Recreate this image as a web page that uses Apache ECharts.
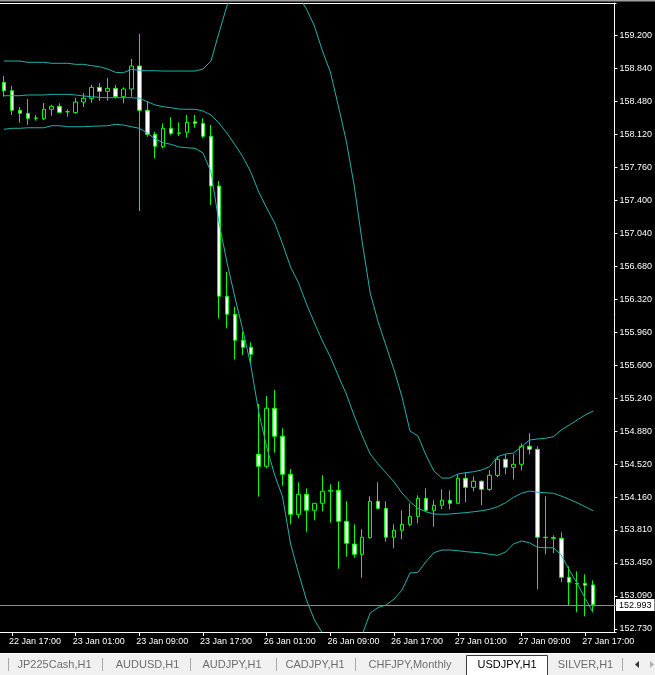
<!DOCTYPE html>
<html>
<head>
<meta charset="utf-8">
<script src="https://cdn.jsdelivr.net/npm/echarts@6/dist/echarts.min.js"></script>
<style>
html,body{margin:0;padding:0;background:#000;}
#chart{width:655px;height:675px;}
</style>
</head>
<body>
<div id="chart"></div>
<script>
// ---- time categories (USDJPY, H1); last 3 slots are the empty chart shift ----
const sessions = [['22 Jan', 16, 23], ['23 Jan', 0, 23], ['26 Jan', 0, 23], ['27 Jan', 0, 21]];
const timeTickLabels = ['22 Jan 17:00', '23 Jan 01:00', '23 Jan 09:00', '23 Jan 17:00', '26 Jan 01:00',
  '26 Jan 09:00', '26 Jan 17:00', '27 Jan 01:00', '27 Jan 09:00', '27 Jan 17:00'];
const priceTicks = [159.2, 158.84, 158.48, 158.12, 157.76, 157.4, 157.04, 156.68, 156.32, 155.96,
  155.6, 155.24, 154.88, 154.52, 154.16, 153.81, 153.45, 153.09, 152.73];
const lastPrice = 152.993;

// ---- OHLC ----
const opens = [158.685,158.593,158.380,158.347,158.296,158.288,158.391,158.423,158.365,158.354,
  158.470,158.511,158.630,158.587,158.619,158.528,158.612,158.862,158.380,158.118,
  157.985,158.184,158.132,158.140,158.255,158.238,158.097,157.555,156.354,156.158,
  155.874,155.800,154.633,154.502,155.134,154.829,154.415,153.979,154.197,154.023,
  154.099,154.230,154.241,153.903,153.655,153.543,153.724,154.121,154.044,153.729,
  153.805,153.870,153.957,154.153,154.023,154.077,154.132,154.099,154.371,154.273,
  154.339,154.251,154.404,154.578,154.491,154.524,154.720,154.687,153.729,153.725,
  153.718,153.293,153.227,153.227,153.210];
const closes = [158.593,158.380,158.347,158.293,158.294,158.391,158.423,158.358,158.364,158.470,
  158.511,158.630,158.587,158.619,158.528,158.612,158.862,158.380,158.118,157.988,
  158.184,158.129,158.130,158.249,158.238,158.097,157.555,156.354,156.158,155.874,
  155.798,155.722,154.502,155.134,154.829,154.415,153.979,154.197,154.023,154.099,
  154.230,154.241,153.903,153.663,153.543,153.729,154.121,154.044,153.729,153.805,
  153.870,153.957,154.153,154.023,154.077,154.132,154.099,154.371,154.273,154.339,
  154.251,154.404,154.578,154.491,154.524,154.720,154.687,153.729,153.725,153.718,
  153.293,153.238,153.220,153.206,152.993];
const lows = [158.528,158.329,158.245,158.223,158.267,158.274,158.321,158.347,158.310,158.340,
  158.416,158.463,158.484,158.484,158.511,158.456,158.528,157.283,158.092,157.857,
  157.966,158.111,158.100,158.086,158.190,158.075,157.348,156.114,156.005,155.667,
  155.714,155.627,154.171,154.480,154.650,154.291,153.870,153.936,153.789,153.914,
  154.012,153.888,153.386,153.517,153.506,153.288,153.715,154.034,153.681,153.609,
  153.707,153.848,153.881,154.001,153.844,154.034,154.034,154.088,154.110,154.230,
  154.077,154.230,154.382,154.415,154.360,154.458,154.633,153.162,153.543,153.554,
  153.238,152.988,152.912,152.868,152.922];
const highs = [158.753,158.645,158.416,158.503,158.329,158.459,158.441,158.456,158.391,158.517,
  158.568,158.659,158.677,158.732,158.655,158.630,158.939,159.211,158.481,158.147,
  158.238,158.304,158.249,158.329,158.329,158.293,158.220,157.610,156.618,156.240,
  155.968,155.853,155.181,155.268,155.333,154.916,154.473,154.328,154.262,154.099,
  154.404,154.306,154.339,154.121,153.870,153.816,154.175,154.328,154.121,153.870,
  154.023,154.099,154.186,154.262,154.132,154.251,154.240,154.415,154.437,154.393,
  154.349,154.458,154.611,154.633,154.633,154.752,154.861,154.720,154.175,153.750,
  153.783,153.413,153.358,153.325,153.260];

// ---- Bollinger Bands (20, 2) ----
const bbUpper = [158.917,158.917,158.917,158.903,158.903,158.903,158.892,158.892,158.892,158.881,
  158.881,158.866,158.855,158.830,158.794,158.789,158.826,158.816,158.811,158.811,
  158.808,158.808,158.808,158.808,158.808,158.830,158.917,159.222,159.516,159.668,
  159.756,159.810,159.864,159.886,159.854,159.777,159.712,159.625,159.483,159.298,
  159.026,158.797,158.427,158.045,157.555,156.945,156.390,156.074,155.812,155.551,
  155.257,154.886,154.832,154.625,154.451,154.374,154.374,154.418,154.432,154.443,
  154.462,154.498,154.607,154.636,154.647,154.715,154.788,154.799,154.807,154.824,
  154.897,154.952,155.006,155.061,155.104];
const bbMiddle = [158.539,158.539,158.539,158.547,158.547,158.547,158.554,158.554,158.554,158.547,
  158.536,158.528,158.521,158.517,158.517,158.517,158.517,158.511,158.474,158.438,
  158.419,158.408,158.394,158.391,158.391,158.372,158.329,158.242,158.133,158.005,
  157.874,157.708,157.490,157.316,157.152,156.923,156.673,156.499,156.270,156.063,
  155.867,155.693,155.486,155.290,155.050,154.832,154.636,154.527,154.429,154.331,
  154.211,154.116,154.044,154.007,153.982,153.979,153.982,153.990,153.997,154.007,
  154.018,154.034,154.062,154.105,154.164,154.208,154.233,154.219,154.214,154.208,
  154.178,154.142,154.105,154.062,154.018];
const bbLower = [158.173,158.184,158.184,158.190,158.190,158.190,158.212,158.212,158.201,158.201,
  158.201,158.206,158.209,158.212,158.227,158.220,158.201,158.184,158.133,158.067,
  158.027,158.009,157.980,157.972,157.966,157.915,157.708,157.163,156.727,156.346,
  155.987,155.605,155.093,154.712,154.407,154.168,153.656,153.340,153.046,152.828,
  152.686,152.588,152.544,152.534,152.544,152.670,152.904,152.964,152.991,153.056,
  153.154,153.340,153.347,153.463,153.561,153.590,153.590,153.583,153.572,153.565,
  153.558,153.543,153.532,153.568,153.656,153.688,153.670,153.620,153.615,153.615,
  153.536,153.372,153.227,153.064,152.907];

const tabs = ['JP225Cash,H1', 'AUDUSD,H1', 'AUDJPY,H1', 'CADJPY,H1', 'CHFJPY,Monthly', 'USDJPY,H1', 'SILVER,H1'];
const activeTab = 'USDJPY,H1';

// ---- build ----
const pad = n => (n < 10 ? '0' : '') + n;
const cats = [];
sessions.forEach(([d, a, b]) => { for (let h = a; h <= b; h++) cats.push(d + ' ' + pad(h) + ':00'); });
const showTick = (idx, val) => timeTickLabels.indexOf(val) >= 0;
const candles = opens.map((o, i) => [o, closes[i], lows[i], highs[i]]);

const tabCenters = [54.5, 147.5, 232, 315, 410, 507, 585.5];
const sepXs = [8.5, 102.5, 190.5, 276.5, 355.5, 622.5];
const graphics = [
  {type: 'rect', shape: {x: 0, y: 0, width: 655, height: 1.5}, style: {fill: '#a0a0a0'}, silent: true},
  {type: 'line', shape: {x1: 0, y1: 3.5, x2: 616.5, y2: 3.5}, style: {stroke: '#fff', lineWidth: 1}, silent: true},
  {type: 'line', shape: {x1: 0, y1: 632.5, x2: 616.5, y2: 632.5}, style: {stroke: '#fff', lineWidth: 1}, silent: true},
  {type: 'rect', shape: {x: 0, y: 653, width: 655, height: 22}, style: {fill: '#f0f0f0'}, silent: true},
  {type: 'line', shape: {x1: 0, y1: 653.5, x2: 655, y2: 653.5}, style: {stroke: '#ffffff', lineWidth: 1}, silent: true},
  {type: 'rect', shape: {x: 466.5, y: 655.5, width: 81, height: 20}, style: {fill: '#ffffff', stroke: '#3c3c3c', lineWidth: 1}, silent: true}
];
sepXs.forEach(x => graphics.push({type: 'line', shape: {x1: x, y1: 658, x2: x, y2: 671}, style: {stroke: '#a8a8a8', lineWidth: 1}, silent: true}));
tabs.forEach((t, i) => graphics.push({
  type: 'text', x: tabCenters[i], y: 664.5, silent: true,
  style: {text: t, fill: t === activeTab ? '#000000' : '#6d6d6d', font: '11px "Liberation Sans", Arial, sans-serif', align: 'center', verticalAlign: 'middle'}
}));
graphics.push({type: 'polygon', shape: {points: [[639, 661], [639, 668], [635, 664.5]]}, style: {fill: '#333'}, silent: true});
graphics.push({type: 'polygon', shape: {points: [[650, 661], [650, 668], [654, 664.5]]}, style: {fill: '#b0b0b0'}, silent: true});

const chart = echarts.init(document.getElementById('chart'), null, {renderer: 'canvas'});
chart.setOption({
  animation: false,
  backgroundColor: '#000000',
  grid: {left: -1.5, top: 3, width: 624, height: 629, containLabel: false},
  xAxis: {
    type: 'category', data: cats, boundaryGap: true,
    axisLine: {show: false},
    axisTick: {show: true, alignWithLabel: true, interval: showTick, length: 4, lineStyle: {color: '#ffffff'}},
    axisLabel: {interval: showTick, color: '#ffffff', fontSize: 9, fontFamily: '"Liberation Sans", Arial, sans-serif', align: 'left', margin: 5, padding: [0, 0, 0, -3]},
    splitLine: {show: false}
  },
  yAxis: {
    type: 'value', position: 'right', offset: -6.5, min: 152.697, max: 159.549,
    axisLine: {show: true, lineStyle: {color: '#ffffff'}},
    axisTick: {show: true, length: 3, customValues: priceTicks, lineStyle: {color: '#ffffff'}},
    axisLabel: {customValues: priceTicks, formatter: v => v.toFixed(3), color: '#ffffff', fontSize: 9,
      fontFamily: '"Liberation Sans", Arial, sans-serif', margin: 5},
    splitLine: {show: false}
  },
  series: [
    {
      type: 'candlestick', data: candles, barWidth: 4, z: 2,
      itemStyle: {color: '#000000', color0: '#ffffff', borderColor: '#00ff00', borderColor0: '#00ff00', borderColorDoji: '#00ff00', borderWidth: 1},
      markLine: {
        silent: true, symbol: ['none', 'none'], animation: false,
        lineStyle: {color: '#8c8c8c', type: 'solid', width: 1},
        label: {show: true, position: 'end', distance: -5, formatter: lastPrice.toFixed(3), color: '#000000', backgroundColor: '#ffffff',
          fontSize: 9, fontFamily: '"Liberation Sans", Arial, sans-serif', padding: [2, 3, 1, 3]},
        data: [{yAxis: lastPrice}]
      }
    },
    {type: 'line', data: bbUpper, symbol: 'none', z: 3, lineStyle: {color: '#20b2aa', width: 1}},
    {type: 'line', data: bbMiddle, symbol: 'none', z: 3, lineStyle: {color: '#20b2aa', width: 1}},
    {type: 'line', data: bbLower, symbol: 'none', z: 3, lineStyle: {color: '#20b2aa', width: 1}}
  ],
  graphic: graphics
});
</script>
</body>
</html>
